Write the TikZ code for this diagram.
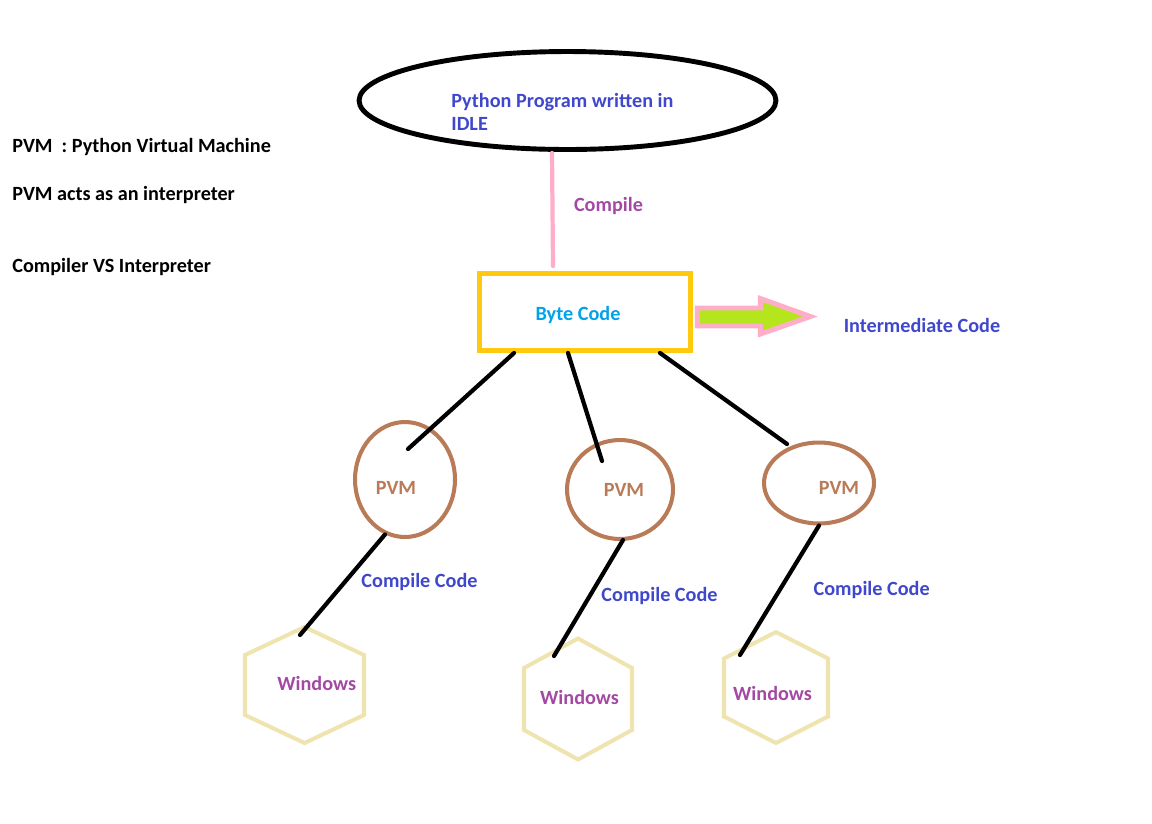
\documentclass[tikz,border=0pt]{standalone}
\usepackage{fontspec}
\setmainfont{Carlito}
\usetikzlibrary{shapes.geometric,calc}

\definecolor{indigo}{HTML}{3F48CC}
\definecolor{plum}{HTML}{A349A4}
\definecolor{sky}{HTML}{00A2E8}
\definecolor{gold}{HTML}{FFC90E}
\definecolor{rose}{HTML}{FFAEC9}
\definecolor{lime}{HTML}{B5E61D}
\definecolor{pvmbrown}{HTML}{B97A57}
\definecolor{winyellow}{HTML}{EFE4B0}

\begin{document}
\begin{tikzpicture}[x=0.02cm, y=-0.02cm,
    every node/.style={inner sep=0pt, font=\fontsize{11.5}{13}\selectfont\bfseries},
    wire/.style={line width=2.4pt, line cap=round},
    ring/.style={draw=pvmbrown, line width=2.3pt, ellipse},
    hexa/.style={draw=winyellow, line width=2.3pt}]
    \useasboundingbox (0, 0) rectangle (1152, 823);

    \node (def) [anchor=west] at (12, 147) {PVM\ \ : Python Virtual Machine};
    \node (acts) [anchor=west] at (12, 195) {PVM acts as an interpreter};
    \node (vs) [anchor=west] at (12, 267) {Compiler VS Interpreter};

    \node (prog) [draw, ellipse, line width=2.8pt, minimum width=8.34cm,
      minimum height=1.96cm] at (567.5, 100.5) {};
    \node (progtxt) [anchor=west, align=left, text=indigo] at (451, 112)
      {Python Program written in\\IDLE};

    \node (byte) [draw=gold, line width=2.8pt, minimum width=4.22cm,
      minimum height=1.54cm] at (585, 312) {};
    \node (bytetxt) [text=sky] at (578, 315) {Byte Code};
    \draw [rose, line width=2.4pt, line cap=round]
      ($(prog.south)+(-15.5, 1)$) -- ($(byte.north)+(-32, -5)$);
    \node (compile) [text=plum] at (608.5, 206) {Compile};

    \filldraw [fill=lime, draw=rose, line width=2.8pt] ($(byte.east)+(4.5, -4)$)
      -- ++(63, 0) -- ++(0, -9.5) -- ++(50, 18) -- ++(-50, 17.5) -- ++(0, -8)
      -- ++(-63, 0) -- cycle;
    \node (inter) [text=indigo] at (922, 325) {Intermediate Code};

    \foreach \n/\x/\y/\w/\h/\tx/\ty in {1/405/479.5/2.0/2.3/396/488,
        2/620/489.5/2.12/1.98/624/490, 3/819/483/2.2/1.62/839/488} {
      \node (pvm\n) [ring, minimum width=\w cm, minimum height=\h cm] at (\x, \y) {};
      \node (pvmtxt\n) [text=pvmbrown] at (\tx, \ty) {PVM};
    }

    \foreach \n/\x/\y/\w/\h/\s in {1/304.5/685/59.5/58/30, 2/578/699/54/60.5/31,
        3/776/687.5/52/55.5/29} {
      \coordinate (hex\n) at (\x, \y);
      \draw [hexa] (hex\n) +(0, -\h) -- +(\w, -\s) -- +(\w, \s) -- +(0, \h)
        -- +(-\w, \s) -- +(-\w, -\s) -- cycle;
    }
    \node (win1) [text=plum] at (316.7, 683.5) {Windows};
    \node (win2) [text=plum] at (579.5, 697) {Windows};
    \node (win3) [text=plum] at (772.5, 693.5) {Windows};

    \node (cc1) [text=indigo] at (419.5, 582) {Compile Code};
    \node (cc2) [text=indigo] at (659.5, 596) {Compile Code};
    \node (cc3) [text=indigo] at (871.7, 590) {Compile Code};

    \draw [wire] ($(byte.south west)+(37, 0)$) -- ($(pvm1.center)+(3, -30.5)$);
    \draw [wire] ($(byte.south)+(-17, 0)$) -- ($(pvm2.center)+(-18, -28.5)$);
    \draw [wire] ($(byte.south east)+(-33, 0)$) -- ($(pvm3.center)+(-32, -39)$);
    \draw [wire] (pvm1.250) -- ($(hex1)+(-4.5, -50)$);
    \draw [wire] ($(pvm2.south)+(3, -1)$) -- ($(hex2)+(-24, -43)$);
    \draw [wire] (pvm3.south) -- ($(hex3)+(-36, -32.5)$);
\end{tikzpicture}
\end{document}
